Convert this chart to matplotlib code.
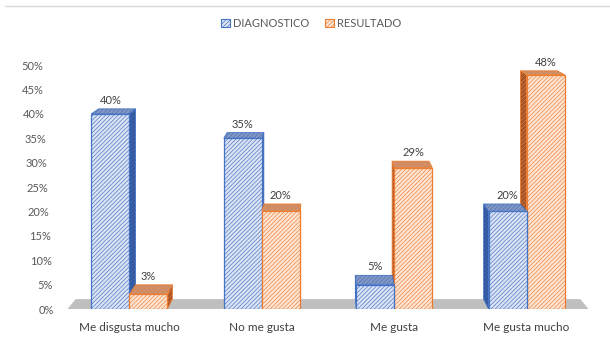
import matplotlib.pyplot as plt
import matplotlib.transforms as mtransforms
from matplotlib.patches import Polygon, Patch
from matplotlib.lines import Line2D

categories = ["Me disgusta mucho", "No me gusta", "Me gusta", "Me gusta mucho"]
diagnostico = [40, 35, 5, 20]
resultado = [3, 20, 29, 48]
series_names = ["DIAGNOSTICO", "RESULTADO"]
yticks = [0, 5, 10, 15, 20, 25, 30, 35, 40, 45, 50]

plt.rcParams['font.family'] = ['Lato', 'DejaVu Sans']
plt.rcParams['hatch.linewidth'] = 0.45

HATCH = "////////"

# front / side / top colours for each series
styles = {
    "DIAGNOSTICO": dict(face="#dbe3f4", edge="#4472c4", side="#34569a", top="#8497c0"),
    "RESULTADO": dict(face="#fde4d3", edge="#ed7d31", side="#a0522a", top="#c99272"),
}

fig = plt.figure(figsize=(6.1, 3.45), dpi=100)
ax = fig.add_axes([0.1066, 0.1043, 0.8607, 0.7072])
ax.set_xlim(-0.486, 3.479)
ax.set_ylim(0, 50)

width = 0.287
# simple perspective: back faces pulled towards a vanishing point
vx, kx = 1.5, 0.031
vy, ky = 80, 0.0254


def back(x, y):
    return (x + (vx - x) * kx, y + (vy - y) * ky)


# grey floor
fl, fr = -0.467, 3.467
floor = Polygon([(fl, 0), (fr, 0), back(fr, 0), back(fl, 0)],
                closed=True, facecolor="#bfbfbf", edgecolor="none", zorder=1)
ax.add_patch(floor)

data = {"DIAGNOSTICO": diagnostico, "RESULTADO": resultado}
offsets = {"DIAGNOSTICO": -width / 2, "RESULTADO": width / 2}

containers = {}
for name in series_names:
    st = styles[name]
    xs = [i + offsets[name] for i in range(len(categories))]
    containers[name] = ax.bar(xs, data[name], width=width, facecolor=st["face"],
                              edgecolor=st["edge"], hatch=HATCH, linewidth=0.9)

for i in range(len(categories)):
    order = series_names if i < vx else series_names[::-1]
    for k, name in enumerate(order):
        st = styles[name]
        v = data[name][i]
        bar = containers[name][i]
        x0 = bar.get_x()
        x1 = x0 + bar.get_width()
        z = 2 + k * 2
        bar.set_zorder(z + 1)
        xe = x1 if (x0 + x1) / 2 < vx else x0
        side = Polygon([(xe, 0), (xe, v), back(xe, v), back(xe, 0)], closed=True,
                       facecolor=st["side"], edgecolor=st["edge"], hatch=HATCH,
                       linewidth=0.6, zorder=z)
        top = Polygon([(x0, v), (x1, v), back(x1, v), back(x0, v)], closed=True,
                      facecolor=st["top"], edgecolor=st["edge"], hatch=HATCH,
                      linewidth=0.6, zorder=z)
        ax.add_patch(side)
        ax.add_patch(top)
        ax.text((x0 + x1) / 2, back(x0, v)[1] + 0.6, f"{v}%", ha="center", va="bottom",
                fontsize=8, color="#404040", zorder=10)

for s in ax.spines.values():
    s.set_visible(False)

ax.set_yticks(yticks)
ax.set_yticklabels([f"{t}%" for t in yticks])
ax.set_xticks(range(len(categories)))
ax.set_xticklabels(categories)
ax.tick_params(axis="y", length=0, pad=8, labelsize=8, labelcolor="#595959")
ax.tick_params(axis="x", length=0, pad=9, labelsize=8.5, labelcolor="#404040")

# the value axis leans inwards towards the top
for t, lab in zip(yticks, ax.get_yticklabels()):
    shift = mtransforms.ScaledTranslation(-0.11 * t / 50, 0, fig.dpi_scale_trans)
    lab.set_transform(lab.get_transform() + shift)

handles = [Patch(facecolor=styles[n]["face"], edgecolor=styles[n]["edge"], hatch=HATCH,
                 linewidth=0.8) for n in series_names]
fig.legend(handles, series_names, loc="center", bbox_to_anchor=(0.51, 0.933), ncol=2,
           frameon=False, fontsize=8, handlelength=0.8, handleheight=0.8,
           handletextpad=0.3, columnspacing=1.4, labelcolor="#595959")

fig.add_artist(Line2D([0.008, 1.0], [0.983, 0.983], transform=fig.transFigure,
                      color="#d9d9d9", linewidth=1))

fig.savefig("out.png", dpi=100)
